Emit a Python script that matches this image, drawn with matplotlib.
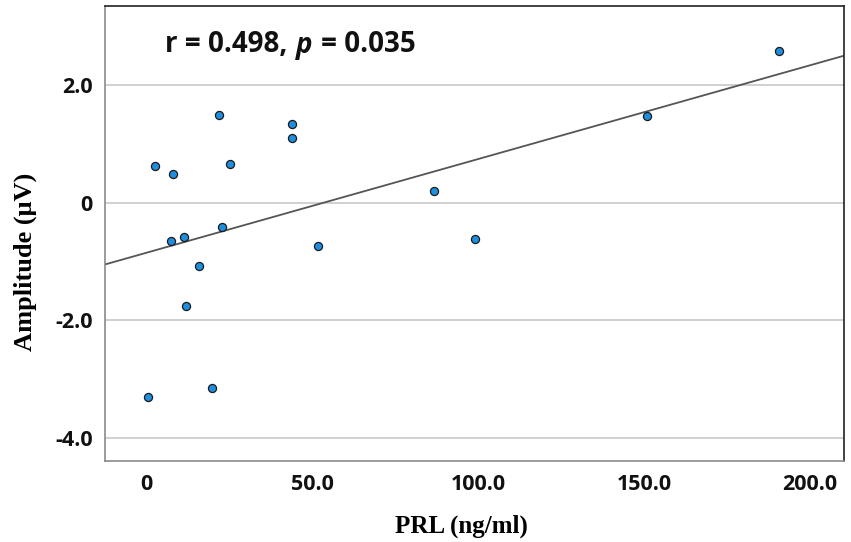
import matplotlib
matplotlib.use("Agg")
import matplotlib.pyplot as plt
import numpy as np
from matplotlib.offsetbox import AnchoredOffsetbox, HPacker, TextArea

# PRL (ng/ml) vs amplitude (uV)
prl = [0.5, 2.7, 8.0, 7.6, 11.3, 12.0, 15.8, 19.9, 21.9, 22.9, 25.2,
       44.0, 44.0, 51.7, 86.7, 99.2, 150.8, 190.6]
amplitude = [-3.31, 0.62, 0.48, -0.66, -0.59, -1.76, -1.07, -3.15, 1.49, -0.41, 0.66,
             1.33, 1.10, -0.74, 0.19, -0.61, 1.47, 2.58]

x_ticks = [0, 50, 100, 150, 200]
x_tick_labels = ["0", "50.0", "100.0", "150.0", "200.0"]
y_ticks = [-4, -2, 0, 2]
y_tick_labels = ["-4.0", "-2.0", "0", "2.0"]

tick_font = "Open Sans"
label_font = "Liberation Serif"

fig = plt.figure(figsize=(8.51, 5.42), dpi=100)
ax = fig.add_axes([105 / 851, 1 - 461 / 542, (844 - 105) / 851, (461 - 6) / 542])

ax.set_xlim(-12.4, 210.2)
ax.set_ylim(-4.39, 3.34)

for y in y_ticks:
    ax.axhline(y, color="#c8c8c8", linewidth=1.2, zorder=0)

# least-squares fit line across the full x range
slope, intercept = np.polyfit(prl, amplitude, 1)
xs = np.array(ax.get_xlim())
ax.plot(xs, slope * xs + intercept, color="#555555", linewidth=1.3, zorder=2)

ax.scatter(prl, amplitude, s=34, facecolor="#1e8fe0", edgecolor="#1a1a1a",
           linewidth=0.9, zorder=3)

ax.set_xticks(x_ticks)
ax.set_xticklabels(x_tick_labels)
ax.set_yticks(y_ticks)
ax.set_yticklabels(y_tick_labels)
ax.tick_params(length=0, pad=9)
for lab in ax.get_xticklabels() + ax.get_yticklabels():
    lab.set_fontfamily(tick_font)
    lab.set_fontweight("bold")
    lab.set_fontsize(15.5)
    lab.set_color("#111111")

for side in ("left", "bottom"):
    ax.spines[side].set_color("#8a8a8a")
    ax.spines[side].set_linewidth(1.2)
for side in ("top", "right"):
    ax.spines[side].set_color("#222222")
    ax.spines[side].set_linewidth(1.2)

ax.set_xlabel("PRL (ng/ml)", fontfamily=label_font, fontweight="bold", fontsize=18)
ax.xaxis.set_label_coords(0.482, -0.118)
ax.set_ylabel("Amplitude (\u03bcV)", fontfamily=label_font, fontweight="bold", fontsize=19)
ax.yaxis.set_label_coords(-0.092, 0.438)

# r / p annotation with italic p
text_style = dict(fontfamily=tick_font, fontweight="bold", fontsize=20, color="#111111")
parts = [
    TextArea("r = 0.498,", textprops=text_style),
    TextArea("p", textprops=dict(text_style, fontstyle="italic")),
    TextArea("= 0.035", textprops=text_style),
]
box = HPacker(children=parts, align="baseline", pad=0, sep=6)
anchored = AnchoredOffsetbox(loc="center left", child=box, frameon=False,
                             bbox_to_anchor=((165 - 105) / 739, 1 - (45 - 6) / 455),
                             bbox_transform=ax.transAxes, borderpad=0, pad=0)
ax.add_artist(anchored)

fig.savefig("out.png", dpi=100, facecolor="white")
